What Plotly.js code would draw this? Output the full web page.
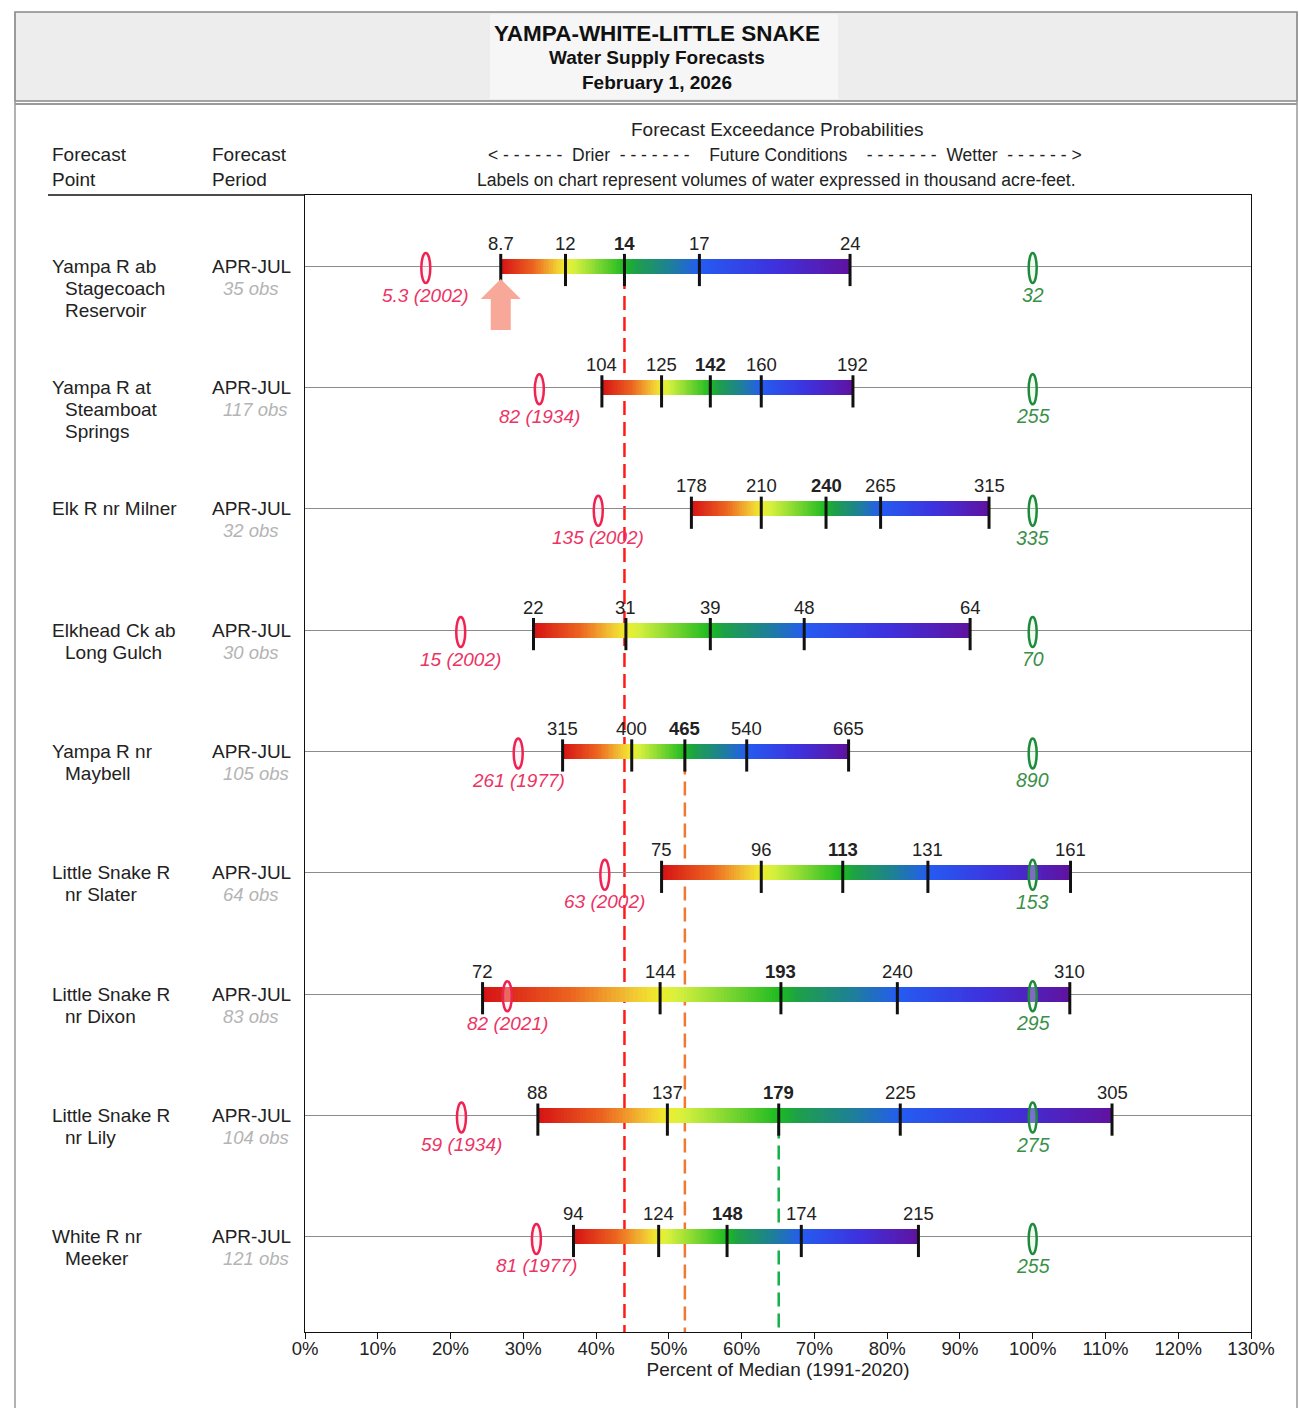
<!DOCTYPE html>
<html><head><meta charset="utf-8">
<script src="https://cdn.plot.ly/plotly-3.0.1.min.js"></script>
<style>html,body{margin:0;padding:0;background:#fff}#chart{width:1299px;height:1408px}</style>
</head><body><div id="chart"></div>
<script>
// ---------------- DATA ----------------
const pointNames = [
  ["Yampa R ab", "Stagecoach", "Reservoir"],
  ["Yampa R at", "Steamboat", "Springs"],
  ["Elk R nr Milner"],
  ["Elkhead Ck ab", "Long Gulch"],
  ["Yampa R nr", "Maybell"],
  ["Little Snake R", "nr Slater"],
  ["Little Snake R", "nr Dixon"],
  ["Little Snake R", "nr Lily"],
  ["White R nr", "Meeker"]
];
const periods = ["APR-JUL","APR-JUL","APR-JUL","APR-JUL","APR-JUL","APR-JUL","APR-JUL","APR-JUL","APR-JUL"];
const obsCounts = [35, 117, 32, 30, 105, 64, 83, 104, 121];
// exceedance values 90%,70%,50%,30%,10% (thousand acre-feet)
const forecastLabels = [
  ["8.7","12","14","17","24"],
  ["104","125","142","160","192"],
  ["178","210","240","265","315"],
  ["22","31","39","48","64"],
  ["315","400","465","540","665"],
  ["75","96","113","131","161"],
  ["72","144","193","240","310"],
  ["88","137","179","225","305"],
  ["94","124","148","174","215"]
];
// same points in percent of median
const forecastPct = [
  [26.9, 35.8, 43.9, 54.2, 74.9],
  [40.8, 49.0, 55.7, 62.7, 75.3],
  [53.1, 62.7, 71.6, 79.1, 94.0],
  [31.4, 44.1, 55.7, 68.6, 91.4],
  [35.4, 44.9, 52.2, 60.7, 74.7],
  [49.0, 62.7, 73.9, 85.6, 105.2],
  [24.4, 48.8, 65.4, 81.4, 105.1],
  [32.0, 49.8, 65.1, 81.8, 110.9],
  [36.9, 48.6, 58.0, 68.2, 84.3]
];
const boldIndex = [2, 2, 2, -1, 2, 2, 2, 2, 2];
const minPct = [16.6, 32.2, 40.3, 21.4, 29.3, 41.2, 27.8, 21.5, 31.8];
const minLabels = ["5.3 (2002)","82 (1934)","135 (2002)","15 (2002)","261 (1977)","63 (2002)","82 (2021)","59 (1934)","81 (1977)"];
const medianPct = [100, 100, 100, 100, 100, 100, 100, 100, 100];
const medianLabels = ["32","255","335","70","890","153","295","275","255"];
const refLineRows = [0, 4, 7];
const refLineColors = ["#ff1a1a", "#f07830", "#14b04a"];
const xTickVals = [0,10,20,30,40,50,60,70,80,90,100,110,120,130];
const xTickText = xTickVals.map(v => v + "%");
const arrowRow = 0;

// ---------------- GEOMETRY ----------------
const W = 1299, H = 1408, L = 305, R = 1251, T = 195, B = 1332;
const plotW = R - L, plotH = B - T;
const yTop = -0.585, yBot = 8.783;
const pxPerRow = plotH / (yBot - yTop);
const px2y = p => p / pxPerRow;
const paperX = px => (px - L) / plotW;
const paperY = py => (B - py) / plotH;
const FONT = "Liberation Sans, Arial, Helvetica, sans-serif";
const nRows = pointNames.length;
const SP2 = "&nbsp; ", SP4 = "&nbsp; &nbsp; ";

// gradient stops along the bar (t from 0 to 4, one unit per segment)
const stops = [
  [0.00, [214, 18, 20]],
  [0.50, [236, 100, 32]],
  [0.85, [242, 200, 52]],
  [1.00, [238, 238, 45]],
  [1.15, [214, 240, 62]],
  [2.00, [28, 186, 34]],
  [2.15, [30, 160, 72]],
  [2.60, [30, 128, 150]],
  [3.00, [36, 92, 240]],
  [3.50, [62, 50, 222]],
  [4.00, [96, 18, 160]]
];
function gradColor(t) {
  for (let i = 0; i < stops.length - 1; i++) {
    const [t0, c0] = stops[i], [t1, c1] = stops[i + 1];
    if (t >= t0 && t <= t1) {
      const f = (t - t0) / (t1 - t0);
      const c = c0.map((v, k) => Math.round(v + (c1[k] - v) * f));
      return `rgb(${c[0]},${c[1]},${c[2]})`;
    }
  }
  const c = stops[stops.length - 1][1];
  return `rgb(${c[0]},${c[1]},${c[2]})`;
}

// ---------------- TRACES ----------------
const barY = [], barBase = [], barLen = [], barColor = [];
const NSUB = 40;
for (let r = 0; r < nRows; r++) {
  const p = forecastPct[r];
  for (let s = 0; s < 4; s++) {
    const a = p[s], b = p[s + 1], step = (b - a) / NSUB;
    for (let i = 0; i < NSUB; i++) {
      const base = a + i * step;
      barY.push(r);
      barBase.push(base);
      barLen.push(Math.min(step * 1.8, b - base));
      barColor.push(gradColor(s + (i + 0.5) / NSUB));
    }
  }
}
const barTrace = {
  type: "bar", orientation: "h", y: barY, base: barBase, x: barLen,
  width: px2y(15), marker: { color: barColor, line: { width: 0 } },
  hoverinfo: "skip", showlegend: false
};
const tickX = [], tickY = [];
for (let r = 0; r < nRows; r++) forecastPct[r].forEach(v => { tickX.push(v); tickY.push(r + px2y(4)); });
const tickTrace = {
  type: "scatter", mode: "markers", x: tickX, y: tickY,
  marker: { symbol: "line-ns", size: 23, color: "#111", line: { width: 3, color: "#111" } },
  hoverinfo: "skip", showlegend: false
};

// ---------------- SHAPES ----------------
const shapes = [];
// header band
shapes.push({ type: "rect", xref: "paper", yref: "paper", x0: paperX(15), x1: paperX(1297), y0: paperY(101), y1: paperY(12), fillcolor: "#ededed", line: { color: "#888", width: 1.5 }, layer: "below" });
shapes.push({ type: "rect", xref: "paper", yref: "paper", x0: paperX(490), x1: paperX(838), y0: paperY(99), y1: paperY(14), fillcolor: "#f6f6f6", line: { width: 0 }, layer: "below" });
shapes.push({ type: "line", xref: "paper", yref: "paper", x0: paperX(15), x1: paperX(1297), y0: paperY(104), y1: paperY(104), line: { color: "#777", width: 1.5 } });
// outer frame sides
shapes.push({ type: "line", xref: "paper", yref: "paper", x0: paperX(15), x1: paperX(15), y0: paperY(12), y1: paperY(1408), line: { color: "#999", width: 1.5 } });
shapes.push({ type: "line", xref: "paper", yref: "paper", x0: paperX(1297), x1: paperX(1297), y0: paperY(12), y1: paperY(1408), line: { color: "#999", width: 1.5 } });
// header rule above the plot, extended to the left columns
shapes.push({ type: "line", xref: "paper", yref: "paper", x0: paperX(48), x1: 0, y0: 1, y1: 1, line: { color: "#111", width: 1.5 } });
// reference dashed lines
refLineRows.forEach((r, i) => {
  shapes.push({ type: "line", xref: "x", yref: "y", x0: forecastPct[r][2], x1: forecastPct[r][2], y0: r + px2y(9), y1: yBot, line: { color: refLineColors[i], width: 2.5, dash: "14px,7px" }, layer: "below" });
});
// record-low and median markers (capsules)
for (let r = 0; r < nRows; r++) {
  shapes.push({ type: "circle", xref: "x", yref: "y", xsizemode: "pixel", ysizemode: "pixel", xanchor: minPct[r], yanchor: r, x0: -4.5, x1: 4.5, y0: -17, y1: 13, fillcolor: "rgba(255,225,232,0.35)", line: { color: "#ee2352", width: 2.5 } });
  shapes.push({ type: "circle", xref: "x", yref: "y", xsizemode: "pixel", ysizemode: "pixel", xanchor: medianPct[r], yanchor: r, x0: -4, x1: 4, y0: -17, y1: 13, fillcolor: "rgba(215,245,215,0.35)", line: { color: "#1e8a3c", width: 2.5 } });
}
// salmon arrow under the first bar start
shapes.push({ type: "path", xref: "x", yref: "y", xsizemode: "pixel", ysizemode: "pixel", xanchor: forecastPct[arrowRow][0], yanchor: arrowRow, path: "M 0 -13 L 20 -33 L 10 -33 L 10 -64 L -10 -64 L -10 -33 L -20 -33 Z", fillcolor: "#f8a898", line: { width: 0 } });

// ---------------- ANNOTATIONS ----------------
const ann = [];
const txt = (text, x, y, opts) => Object.assign({ text, x, y, xref: "paper", yref: "paper", showarrow: false, font: { family: FONT, size: 19, color: "#222" }, xanchor: "left", yanchor: "middle" }, opts || {});
ann.push(txt("<b>Water Supply Forecasts</b>", paperX(657), paperY(58), { xanchor: "center", font: { family: FONT, size: 19, color: "#111" } }));
ann.push(txt("<b>February 1, 2026</b>", paperX(657), paperY(83), { xanchor: "center", font: { family: FONT, size: 19, color: "#111" } }));
ann.push(txt("Forecast Exceedance Probabilities", paperX(777), paperY(130), { xanchor: "center", font: { family: FONT, size: 19, color: "#222" } }));
ann.push(txt("&lt; - - - - - -" + SP2 + "Drier" + SP2 + "- - - - - - -" + SP4 + "Future Conditions" + SP4 + "- - - - - - -" + SP2 + "Wetter" + SP2 + "- - - - - - &gt;", paperX(784.5), paperY(155), { xanchor: "center", font: { family: FONT, size: 17.5, color: "#222" } }));
ann.push(txt("Labels on chart represent volumes of water expressed in thousand acre-feet.", paperX(776.5), paperY(180), { xanchor: "center", font: { family: FONT, size: 17.6, color: "#222" } }));
ann.push(txt("Forecast", paperX(50), paperY(155)));
ann.push(txt("Point", paperX(50), paperY(180)));
ann.push(txt("Forecast", paperX(210), paperY(155)));
ann.push(txt("Period", paperX(210), paperY(180)));

for (let r = 0; r < nRows; r++) {
  pointNames[r].forEach((line, k) => {
    ann.push({ text: line, xref: "paper", yref: "y", x: paperX(k === 0 ? 50 : 63), y: r, yshift: -22 * k, xanchor: "left", yanchor: "middle", showarrow: false, font: { family: FONT, size: 19, color: "#222" } });
  });
  ann.push({ text: periods[r], xref: "paper", yref: "y", x: paperX(210), y: r, xanchor: "left", yanchor: "middle", showarrow: false, font: { family: FONT, size: 19, color: "#222" } });
  ann.push({ text: "<i>" + obsCounts[r] + " obs</i>", xref: "paper", yref: "y", x: paperX(221), y: r, yshift: -22, xanchor: "left", yanchor: "middle", showarrow: false, font: { family: FONT, size: 18.5, color: "#b4b4b4" } });
  forecastLabels[r].forEach((lab, k) => {
    ann.push({ text: k === boldIndex[r] ? "<b>" + lab + "</b>" : lab, xref: "x", yref: "y", x: forecastPct[r][k], y: r, yshift: 23, xanchor: "center", yanchor: "middle", showarrow: false, font: { family: FONT, size: 18.5, color: "#222" } });
  });
  ann.push({ text: "<i>" + minLabels[r] + "</i>", xref: "x", yref: "y", x: minPct[r], y: r, yshift: -29, xanchor: "center", yanchor: "middle", showarrow: false, font: { family: FONT, size: 19, color: "#ec3464" } });
  ann.push({ text: "<i>" + medianLabels[r] + "</i>", xref: "x", yref: "y", x: medianPct[r], y: r, yshift: -29, xanchor: "center", yanchor: "middle", showarrow: false, font: { family: FONT, size: 19.5, color: "#3a9048" } });
}

// ---------------- LAYOUT ----------------
const layout = {
  width: W, height: H,
  margin: { l: L, r: W - R, t: T, b: H - B, pad: 0 },
  paper_bgcolor: "#ffffff", plot_bgcolor: "#ffffff",
  font: { family: FONT, color: "#222" },
  title: { text: "<b>YAMPA-WHITE-LITTLE SNAKE</b>", x: 657 / W, xanchor: "center", y: 1 - 33 / H, yanchor: "middle", yref: "container", xref: "container", font: { family: FONT, size: 22.5, color: "#111" } },
  barmode: "overlay", bargap: 0,
  showlegend: false,
  xaxis: {
    range: [0, 130], tickvals: xTickVals, ticktext: xTickText,
    ticks: "outside", ticklen: 6, tickwidth: 1, tickcolor: "#111",
    ticklabelstandoff: -6,
    showline: true, linecolor: "#111", linewidth: 1.2, mirror: true,
    showgrid: false, zeroline: false, fixedrange: true,
    tickfont: { family: FONT, size: 18.5, color: "#222" },
    title: { text: "Percent of Median (1991-2020)", font: { family: FONT, size: 19, color: "#222" }, standoff: 2 }
  },
  yaxis: {
    range: [yBot, yTop], tickvals: [0,1,2,3,4,5,6,7,8], showticklabels: false, ticks: "",
    showgrid: true, gridcolor: "#8c8c8c", gridwidth: 1,
    showline: true, linecolor: "#111", linewidth: 1.2, mirror: true,
    zeroline: false, fixedrange: true
  },
  shapes: shapes,
  annotations: ann
};

Plotly.newPlot("chart", [barTrace, tickTrace], layout, { displayModeBar: false, staticPlot: true });
</script>
</body></html>
